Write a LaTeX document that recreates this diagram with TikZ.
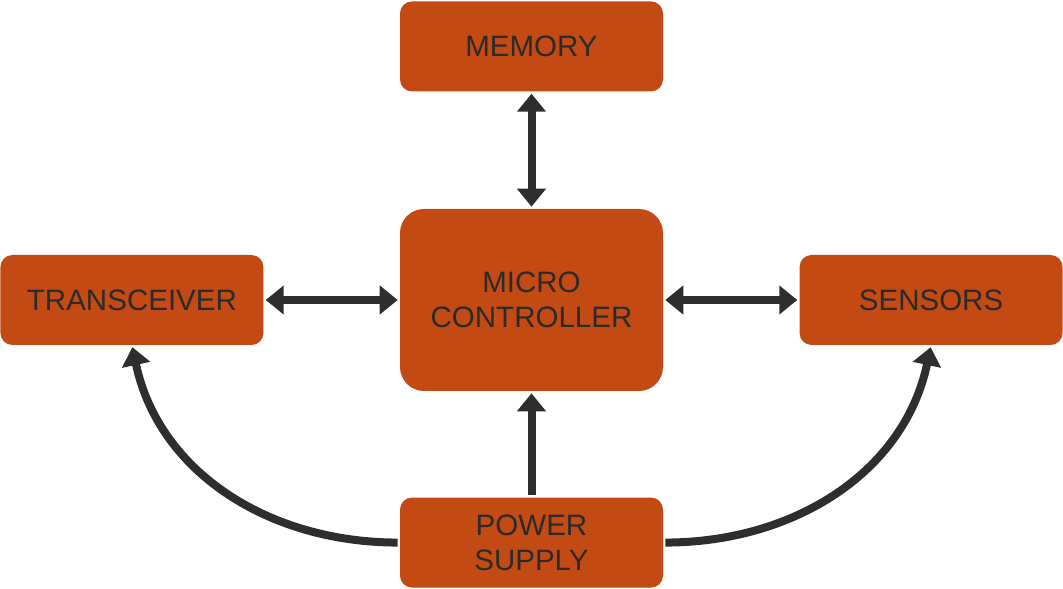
\documentclass[tikz,border=0pt]{standalone}
\usepackage{fontspec}
\setmainfont{Liberation Sans}
\usetikzlibrary{positioning,arrows.meta}

\definecolor{blockfill}{HTML}{C44A14}
\definecolor{blocktext}{HTML}{2B2B2B}
\definecolor{linkcolor}{HTML}{2E2E2E}

\tikzstyle{block}=[fill=blockfill,text=blocktext,rounded corners=0.3cm,minimum width=6.575cm,minimum height=2.25cm,inner sep=0pt,align=center,font=\fontsize{21}{25}\selectfont]
\tikzstyle{bigblock}=[block,rounded corners=0.6cm,minimum height=4.55cm]
\tikzstyle{link}=[draw=linkcolor,line width=0.2cm,shorten <=0.05cm,shorten >=0.05cm]
\tikzstyle{tip}=[-{Triangle[width=0.7cm,length=0.45cm]}]
\tikzstyle{tips}=[{Triangle[width=0.7cm,length=0.45cm]}-{Triangle[width=0.7cm,length=0.45cm]}]

\begin{document}
\begin{tikzpicture}
    \useasboundingbox (0,0) rectangle (26.575,14.725);
    % the blocks
    \node[bigblock] (mcu) at (13.2875,7.225) {MICRO\\CONTROLLER};
    \node[block, above=2.925cm of mcu] (mem) {MEMORY};
    \node[block, left=3.4cm of mcu] (trx) {TRANSCEIVER};
    \node[block, right=3.4cm of mcu] (sens) {SENSORS};
    \node[block, below=2.65cm of mcu] (psu) {POWER\\SUPPLY};
    % two-way links to the controller
    \foreach \dest in {mem,trx,sens}
        \path[link,tips] (mcu) -- (\dest);
    % power lines
    \path[link,tip] (psu) -- (mcu);
    \path[link,tip] (psu.west) to[out=180,in=-78] (trx.south);
    \path[link,tip] (psu.east) to[out=0,in=-102] (sens.south);
\end{tikzpicture}
\end{document}
